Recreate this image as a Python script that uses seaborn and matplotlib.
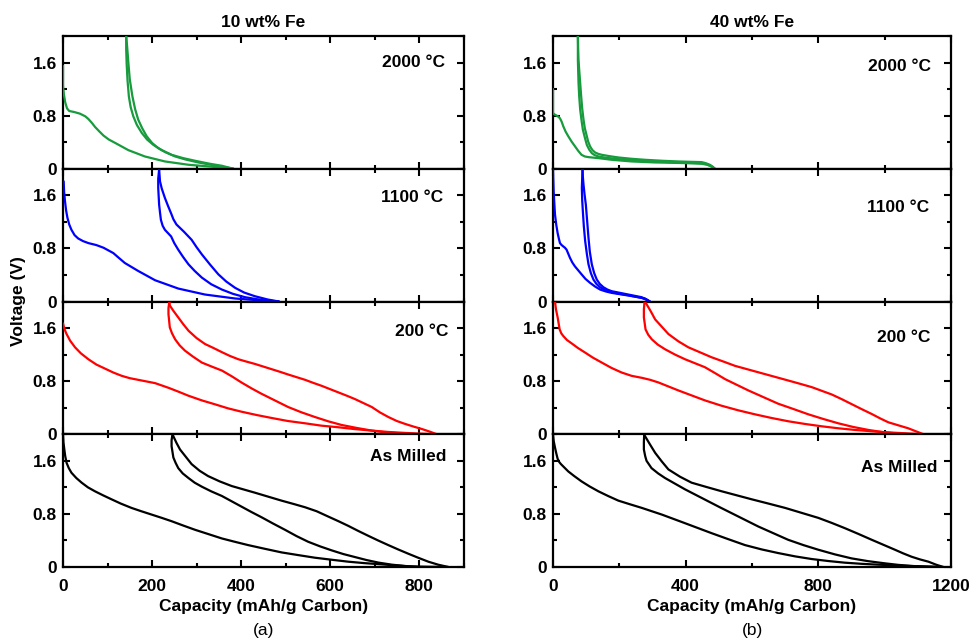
"""Courbes galvanostatiques (1ere decharge, charge, 2e decharge) pour C-Fe."""

import matplotlib
matplotlib.use("Agg")
import matplotlib.pyplot as plt
import pandas as pd
import seaborn as sns
from matplotlib.ticker import MultipleLocator

# --- 10 wt% Fe : 2000 °C ---
fe10_2000_dis1_cap = [0, 0, 2, 5, 9, 14, 25, 38, 50, 57, 65, 72, 82, 91, 103, 117, 147, 184, 229, 282, 327, 383]
fe10_2000_dis1_v = [1.55, 1.25, 1.12, 1.0, 0.91, 0.87, 0.855, 0.83, 0.79, 0.75, 0.69, 0.63, 0.56, 0.50, 0.44, 0.39, 0.28, 0.185, 0.11, 0.06, 0.035, 0.0]
fe10_2000_chg_cap = [383, 340, 304, 275, 252, 230, 214, 200, 188, 178, 169, 162, 156, 150, 147, 144, 142]
fe10_2000_chg_v = [0.0, 0.05, 0.095, 0.14, 0.185, 0.25, 0.31, 0.39, 0.49, 0.61, 0.74, 0.90, 1.09, 1.35, 1.59, 1.85, 2.0]
fe10_2000_dis2_cap = [142, 142, 143, 145, 148, 152, 158, 166, 177, 189, 203, 222, 244, 270, 297, 330, 357, 383]
fe10_2000_dis2_v = [2.0, 1.8, 1.59, 1.33, 1.09, 0.93, 0.79, 0.66, 0.54, 0.44, 0.36, 0.28, 0.21, 0.16, 0.12, 0.075, 0.045, 0.0]

# --- 10 wt% Fe : 1100 °C ---
fe10_1100_dis1_cap = [1.5, 2.5, 4.5, 7, 10, 14, 19, 26, 34, 45, 57, 75, 91, 102, 113, 125, 139, 169, 207, 259, 319, 387, 446, 485]
fe10_1100_dis1_v = [1.81, 1.65, 1.51, 1.37, 1.26, 1.16, 1.08, 1.0, 0.95, 0.91, 0.88, 0.85, 0.81, 0.77, 0.73, 0.66, 0.58, 0.46, 0.32, 0.195, 0.105, 0.045, 0.015, 0.0]
fe10_1100_chg_cap = [485, 460, 431, 407, 387, 367, 349, 330, 312, 300, 289, 272, 255, 248, 244, 236, 229, 222, 218, 216]
fe10_1100_chg_v = [0.0, 0.03, 0.08, 0.135, 0.205, 0.30, 0.41, 0.56, 0.71, 0.82, 0.93, 1.05, 1.16, 1.24, 1.31, 1.44, 1.56, 1.70, 1.81, 1.99]
fe10_1100_dis2_cap = [216, 214, 214, 216, 218, 220, 224, 229, 236, 243, 250, 259, 270, 282, 296, 312, 333, 357, 382, 409, 435, 461, 485]
fe10_1100_dis2_v = [1.99, 1.85, 1.71, 1.46, 1.34, 1.23, 1.14, 1.08, 1.03, 0.98, 0.88, 0.78, 0.67, 0.56, 0.46, 0.36, 0.26, 0.18, 0.115, 0.065, 0.035, 0.015, 0.0]

# --- 10 wt% Fe : 200 °C ---
fe10_200_dis1_cap = [0, 3, 8, 16, 27, 40, 57, 75, 94, 113, 132, 150, 169, 188, 207, 222, 237, 260, 282, 312, 342, 371, 401, 435, 469, 505, 544, 580, 619, 655, 694, 730, 769, 805, 840]
fe10_200_dis1_v = [1.67, 1.59, 1.51, 1.41, 1.31, 1.22, 1.13, 1.05, 0.99, 0.93, 0.88, 0.845, 0.82, 0.795, 0.77, 0.735, 0.70, 0.64, 0.58, 0.51, 0.45, 0.39, 0.34, 0.29, 0.245, 0.20, 0.165, 0.13, 0.105, 0.078, 0.055, 0.035, 0.02, 0.008, 0.0]
fe10_200_chg_cap = [840, 824, 806, 788, 769, 750, 731, 712, 694, 675, 656, 638, 619, 600, 581, 562, 544, 525, 506, 488, 469, 450, 431, 412, 394, 375, 356, 338, 319, 300, 282, 270, 259, 248, 240, 239]
fe10_200_chg_v = [0.0, 0.04, 0.08, 0.115, 0.155, 0.20, 0.26, 0.33, 0.41, 0.47, 0.53, 0.58, 0.63, 0.68, 0.73, 0.775, 0.82, 0.86, 0.90, 0.94, 0.98, 1.02, 1.06, 1.095, 1.13, 1.18, 1.24, 1.30, 1.36, 1.45, 1.56, 1.66, 1.76, 1.86, 1.94, 2.0]
fe10_200_dis2_cap = [239, 237, 237, 240, 245, 252, 262, 274, 292, 312, 334, 357, 380, 401, 424, 446, 476, 506, 536, 566, 596, 626, 660, 694, 730, 769, 800]
fe10_200_dis2_v = [2.0, 1.9, 1.81, 1.61, 1.52, 1.43, 1.34, 1.26, 1.17, 1.08, 1.02, 0.96, 0.87, 0.78, 0.69, 0.61, 0.51, 0.41, 0.33, 0.26, 0.195, 0.14, 0.095, 0.055, 0.025, 0.01, 0.0]

# --- 10 wt% Fe : As Milled ---
fe10_am_dis1_cap = [0, 1, 3, 5, 8, 13, 19, 30, 42, 56, 72, 90, 109, 130, 154, 176, 199, 222, 244, 270, 297, 327, 357, 386, 416, 453, 491, 528, 566, 603, 641, 678, 716, 746, 776, 820, 866]
fe10_am_dis1_v = [2.0, 1.88, 1.77, 1.67, 1.57, 1.49, 1.42, 1.34, 1.27, 1.20, 1.14, 1.08, 1.02, 0.955, 0.89, 0.84, 0.79, 0.74, 0.69, 0.625, 0.56, 0.495, 0.43, 0.38, 0.33, 0.275, 0.22, 0.18, 0.14, 0.11, 0.08, 0.058, 0.04, 0.024, 0.01, 0.004, 0.0]
fe10_am_chg_cap = [866, 843, 821, 798, 776, 753, 731, 708, 686, 663, 641, 619, 596, 570, 544, 518, 491, 461, 431, 405, 379, 352, 326, 307, 289, 276, 263, 255, 248, 246]
fe10_am_chg_v = [0.0, 0.035, 0.08, 0.14, 0.20, 0.265, 0.33, 0.40, 0.47, 0.545, 0.62, 0.69, 0.76, 0.84, 0.90, 0.95, 1.0, 1.06, 1.12, 1.17, 1.22, 1.29, 1.37, 1.45, 1.55, 1.66, 1.77, 1.87, 1.97, 2.0]
fe10_am_dis2_cap = [246, 244, 244, 248, 253, 259, 269, 282, 296, 312, 333, 357, 379, 401, 423, 446, 472, 499, 525, 551, 578, 604, 630, 656, 682, 709, 739, 769, 798]
fe10_am_dis2_v = [2.0, 1.91, 1.82, 1.65, 1.57, 1.49, 1.41, 1.34, 1.27, 1.21, 1.14, 1.07, 0.99, 0.91, 0.83, 0.75, 0.655, 0.56, 0.465, 0.38, 0.31, 0.25, 0.195, 0.15, 0.105, 0.066, 0.035, 0.015, 0.0]

# --- 40 wt% Fe : 2000 °C ---
fe40_2000_dis1_cap = [0, 0, 4, 11, 16, 21, 26, 31, 38, 46, 56, 66, 76, 86, 96, 107, 137, 177, 237, 307, 398, 448, 463, 473, 482, 488]
fe40_2000_dis1_v = [1.2, 0.84, 0.82, 0.80, 0.785, 0.76, 0.71, 0.64, 0.56, 0.49, 0.41, 0.34, 0.27, 0.21, 0.185, 0.175, 0.16, 0.135, 0.11, 0.095, 0.085, 0.075, 0.062, 0.045, 0.022, 0.0]
fe40_2000_chg_cap = [488, 482, 473, 460, 448, 410, 378, 330, 277, 237, 197, 170, 147, 136, 127, 119, 112, 106, 102, 96, 92, 88, 85, 82, 79, 77, 76, 75]
fe40_2000_chg_v = [0.0, 0.03, 0.06, 0.085, 0.10, 0.105, 0.11, 0.12, 0.135, 0.15, 0.17, 0.19, 0.21, 0.225, 0.245, 0.28, 0.335, 0.41, 0.49, 0.61, 0.74, 0.91, 1.09, 1.29, 1.49, 1.64, 1.79, 2.0]
fe40_2000_dis2_cap = [75, 75, 76, 77, 79, 82, 86, 90, 96, 102, 109, 117, 126, 137, 160, 197, 237, 277, 330, 378, 448, 465, 478, 488]
fe40_2000_dis2_v = [2.0, 1.64, 1.46, 1.29, 1.09, 0.89, 0.73, 0.59, 0.47, 0.36, 0.29, 0.235, 0.205, 0.185, 0.165, 0.145, 0.13, 0.12, 0.105, 0.095, 0.085, 0.065, 0.035, 0.0]

# --- 40 wt% Fe : 1100 °C ---
fe40_1100_dis1_cap = [0, 1, 2, 4, 6, 10, 14, 18, 21, 26, 31, 36, 41, 46, 51, 58, 66, 76, 86, 98, 112, 127, 142, 160, 177, 202, 227, 250, 267, 280, 292]
fe40_1100_dis1_v = [1.98, 1.82, 1.66, 1.48, 1.31, 1.15, 1.03, 0.94, 0.88, 0.85, 0.83, 0.81, 0.78, 0.72, 0.66, 0.59, 0.53, 0.47, 0.41, 0.34, 0.28, 0.225, 0.18, 0.15, 0.13, 0.11, 0.09, 0.07, 0.055, 0.03, 0.0]
fe40_1100_chg_cap = [292, 280, 267, 247, 227, 202, 177, 164, 152, 141, 132, 124, 117, 111, 107, 103, 99, 95, 92, 90, 89]
fe40_1100_chg_v = [0.0, 0.035, 0.065, 0.085, 0.105, 0.13, 0.155, 0.18, 0.215, 0.265, 0.33, 0.43, 0.56, 0.75, 0.96, 1.21, 1.46, 1.62, 1.76, 1.88, 2.0]
fe40_1100_dis2_cap = [89, 88, 87, 88, 90, 93, 97, 102, 107, 114, 122, 131, 142, 158, 177, 202, 227, 252, 277, 286, 292]
fe40_1100_dis2_v = [2.0, 1.85, 1.71, 1.53, 1.36, 1.13, 0.91, 0.72, 0.56, 0.43, 0.33, 0.265, 0.215, 0.17, 0.14, 0.115, 0.095, 0.07, 0.045, 0.02, 0.0]

# --- 40 wt% Fe : 200 °C ---
fe40_200_dis1_cap = [6, 9, 14, 17, 20, 25, 31, 42, 56, 75, 97, 120, 147, 176, 207, 237, 268, 293, 318, 348, 378, 418, 458, 508, 559, 609, 659, 710, 760, 810, 860, 910, 961, 1001, 1041, 1080, 1117]
fe40_200_dis1_v = [2.0, 1.88, 1.76, 1.67, 1.58, 1.52, 1.48, 1.42, 1.37, 1.30, 1.23, 1.155, 1.08, 1.0, 0.93, 0.88, 0.85, 0.82, 0.78, 0.72, 0.66, 0.585, 0.51, 0.43, 0.36, 0.30, 0.245, 0.195, 0.155, 0.12, 0.09, 0.065, 0.045, 0.03, 0.02, 0.009, 0.0]
fe40_200_chg_cap = [1117, 1094, 1071, 1041, 1011, 986, 961, 930, 900, 870, 840, 810, 780, 745, 709, 669, 629, 589, 549, 514, 478, 443, 408, 378, 348, 328, 308, 295, 282, 276]
fe40_200_chg_v = [0.0, 0.045, 0.09, 0.135, 0.18, 0.24, 0.305, 0.38, 0.455, 0.53, 0.60, 0.655, 0.71, 0.76, 0.81, 0.865, 0.92, 0.975, 1.03, 1.095, 1.16, 1.235, 1.31, 1.40, 1.51, 1.62, 1.73, 1.85, 1.96, 2.0]
fe40_200_dis2_cap = [276, 274, 274, 279, 287, 298, 316, 338, 368, 398, 428, 458, 489, 519, 554, 589, 634, 679, 725, 770, 815, 860, 905, 951, 991, 1031, 1081]
fe40_200_dis2_v = [2.0, 1.88, 1.76, 1.58, 1.50, 1.43, 1.35, 1.28, 1.20, 1.13, 1.07, 1.01, 0.92, 0.83, 0.745, 0.66, 0.56, 0.46, 0.38, 0.30, 0.23, 0.165, 0.11, 0.065, 0.035, 0.015, 0.0]

# --- 40 wt% Fe : As Milled ---
fe40_am_dis1_cap = [0, 2, 6, 10, 14, 19, 24, 34, 46, 64, 86, 110, 137, 166, 197, 232, 268, 298, 328, 363, 398, 438, 478, 528, 579, 629, 679, 730, 780, 830, 880, 930, 981, 1031, 1081, 1130, 1177]
fe40_am_dis1_v = [2.0, 1.90, 1.80, 1.71, 1.63, 1.58, 1.55, 1.50, 1.44, 1.37, 1.29, 1.215, 1.14, 1.07, 1.0, 0.945, 0.89, 0.84, 0.79, 0.725, 0.66, 0.585, 0.51, 0.42, 0.33, 0.265, 0.21, 0.16, 0.12, 0.09, 0.065, 0.048, 0.035, 0.024, 0.015, 0.007, 0.0]
fe40_am_chg_cap = [1177, 1155, 1132, 1106, 1081, 1056, 1031, 996, 961, 920, 880, 840, 800, 750, 700, 650, 599, 554, 509, 463, 418, 383, 348, 328, 308, 292, 277, 275]
fe40_am_chg_v = [0.0, 0.035, 0.08, 0.115, 0.155, 0.205, 0.26, 0.335, 0.41, 0.50, 0.585, 0.665, 0.74, 0.815, 0.89, 0.955, 1.02, 1.08, 1.14, 1.205, 1.27, 1.36, 1.47, 1.59, 1.72, 1.85, 1.975, 2.0]
fe40_am_dis2_cap = [275, 274, 274, 278, 282, 297, 317, 338, 368, 398, 433, 468, 503, 539, 579, 619, 664, 709, 755, 800, 850, 900, 950, 1001, 1041, 1081, 1122, 1162]
fe40_am_dis2_v = [2.0, 1.88, 1.77, 1.67, 1.60, 1.49, 1.41, 1.34, 1.255, 1.17, 1.08, 0.99, 0.90, 0.81, 0.71, 0.61, 0.51, 0.41, 0.33, 0.26, 0.19, 0.13, 0.088, 0.055, 0.032, 0.015, 0.006, 0.0]

TEMPS = ["2000 °C", "1100 °C", "200 °C", "As Milled"]
COLORS = ["#179b3d", "#0000ff", "#ff0000", "#000000"]

CURVES = {
    ("10", "2000 °C"): [(fe10_2000_dis1_cap, fe10_2000_dis1_v), (fe10_2000_chg_cap, fe10_2000_chg_v), (fe10_2000_dis2_cap, fe10_2000_dis2_v)],
    ("10", "1100 °C"): [(fe10_1100_dis1_cap, fe10_1100_dis1_v), (fe10_1100_chg_cap, fe10_1100_chg_v), (fe10_1100_dis2_cap, fe10_1100_dis2_v)],
    ("10", "200 °C"): [(fe10_200_dis1_cap, fe10_200_dis1_v), (fe10_200_chg_cap, fe10_200_chg_v), (fe10_200_dis2_cap, fe10_200_dis2_v)],
    ("10", "As Milled"): [(fe10_am_dis1_cap, fe10_am_dis1_v), (fe10_am_chg_cap, fe10_am_chg_v), (fe10_am_dis2_cap, fe10_am_dis2_v)],
    ("40", "2000 °C"): [(fe40_2000_dis1_cap, fe40_2000_dis1_v), (fe40_2000_chg_cap, fe40_2000_chg_v), (fe40_2000_dis2_cap, fe40_2000_dis2_v)],
    ("40", "1100 °C"): [(fe40_1100_dis1_cap, fe40_1100_dis1_v), (fe40_1100_chg_cap, fe40_1100_chg_v), (fe40_1100_dis2_cap, fe40_1100_dis2_v)],
    ("40", "200 °C"): [(fe40_200_dis1_cap, fe40_200_dis1_v), (fe40_200_chg_cap, fe40_200_chg_v), (fe40_200_dis2_cap, fe40_200_dis2_v)],
    ("40", "As Milled"): [(fe40_am_dis1_cap, fe40_am_dis1_v), (fe40_am_chg_cap, fe40_am_chg_v), (fe40_am_dis2_cap, fe40_am_dis2_v)],
}

# colonnes : (composition, titre, xmax, pas majeur, pas mineur, etiquette, bord gauche, bord droit)
COLUMNS = [
    ("10", "10 wt% Fe", 900, 200, 100, "(a)", 63, 463.5),
    ("40", "40 wt% Fe", 1200, 400, 200, "(b)", 553, 951),
]

# position des etiquettes de temperature (fraction d'axe x droite, y centre)
LABEL_POS = {
    "10": [(0.954, 0.80), (0.949, 0.78), (0.961, 0.776), (0.956, 0.836)],
    "40": [(0.95, 0.77), (0.945, 0.71), (0.948, 0.73), (0.967, 0.75)],
}

W, H = 971, 641
TOP, BOTTOM = 36, 567
FS = 12.5


def panel_frame(curves):
    frames = []
    for i, (cap, volt) in enumerate(curves):
        frames.append(pd.DataFrame({"cap": cap, "volt": volt, "curve": i}))
    return pd.concat(frames, ignore_index=True)


def main() -> None:
    sns.set_theme(style="ticks")
    plt.rcParams["font.family"] = ["Liberation Sans", "DejaVu Sans"]
    plt.rcParams["font.weight"] = "bold"
    for key in ("text.color", "axes.labelcolor", "xtick.color", "ytick.color", "axes.edgecolor"):
        plt.rcParams[key] = "black"

    fig = plt.figure(figsize=(W / 100, H / 100), dpi=100)
    panel_h = (BOTTOM - TOP) / 4

    for comp, title, xmax, major, minor, tag, x0, x1 in COLUMNS:
        for row, (temp, color) in enumerate(zip(TEMPS, COLORS)):
            y_top = TOP + row * panel_h
            ax = fig.add_axes([x0 / W, 1 - (y_top + panel_h) / H, (x1 - x0) / W, panel_h / H])
            df = panel_frame(CURVES[(comp, temp)])
            sns.lineplot(data=df, x="cap", y="volt", units="curve", estimator=None,
                         sort=False, color=color, lw=1.6, legend=False, ax=ax,
                         solid_joinstyle="round", solid_capstyle="round", zorder=3)

            ax.set_xlim(0, xmax)
            ax.set_ylim(0, 2.0)
            ax.xaxis.set_major_locator(MultipleLocator(major))
            ax.xaxis.set_minor_locator(MultipleLocator(minor))
            ax.set_yticks([0, 0.8, 1.6])
            ax.set_yticklabels(["0", "0.8", "1.6"])
            ax.yaxis.set_minor_locator(MultipleLocator(0.4))
            ax.tick_params(which="both", direction="in", top=True, right=True,
                           width=1.5, labelsize=FS, color="black")
            ax.tick_params(axis="y", pad=4.5)
            ax.tick_params(axis="x", pad=8.5)
            ax.tick_params(which="major", length=5)
            ax.tick_params(which="minor", length=3)
            for sp in ax.spines.values():
                sp.set_linewidth(1.6)
            ax.set_ylabel("")
            lx, ly = LABEL_POS[comp][row]
            ax.text(lx, ly, temp, transform=ax.transAxes, ha="right", va="center",
                    fontsize=FS, fontweight="bold")

            if row == 0:
                ax.set_title(title, fontsize=FS, fontweight="bold", pad=6.5)
            if row < 3:
                ax.set_xlabel("")
                ax.tick_params(labelbottom=False)
            else:
                ax.set_xlabel("Capacity (mAh/g Carbon)", fontsize=FS, fontweight="bold", labelpad=3.5)
                fig.text((x0 + x1) / 2 / W, 1 - 630 / H, tag, ha="center", va="center",
                         fontsize=FS, fontweight="normal")

    fig.text(18 / W, 1 - (TOP + BOTTOM) / 2 / H, "Voltage (V)", rotation=90,
             ha="center", va="center", fontsize=FS, fontweight="bold")

    fig.savefig("out.png", dpi=100)
    plt.close(fig)


if __name__ == "__main__":
    main()
